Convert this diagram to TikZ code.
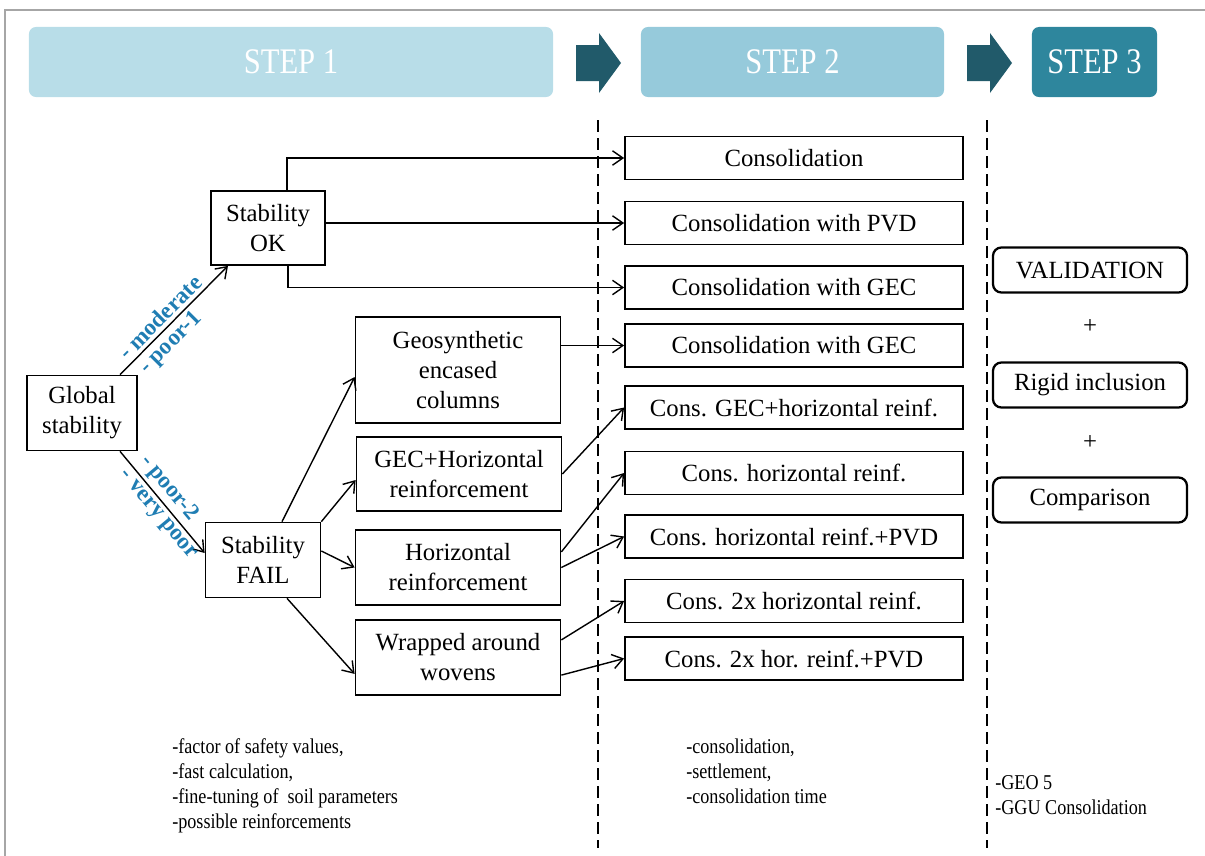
\documentclass[tikz,border=0pt]{standalone}
\usepackage{fontspec}
\setmainfont{Liberation Serif}
\usetikzlibrary{arrows.meta, positioning}
\definecolor{stepA}{HTML}{B8DDE8}
\definecolor{stepB}{HTML}{96CADB}
\definecolor{stepC}{HTML}{2E869D}
\definecolor{steparrow}{HTML}{215A6A}
\definecolor{grade}{HTML}{1F7DB3}
\tikzset{
  header/.style={
    rectangle,
    rounded corners=5pt,
    minimum height=1.75cm,
    text=white,
    font=\fontsize{25.6}{26}\selectfont,
    inner sep=0pt
  },
  reg/.style={
    rectangle,
    draw=black,
    line width=1.2pt,
    align=center,
    font=\fontsize{17.6}{21.3}\selectfont,
    inner sep=0pt
  },
  alt/.style={reg, minimum width=5.125cm},
  cons/.style={reg, minimum width=8.45cm, minimum height=1.075cm},
  final/.style={
    reg,
    rounded corners=6pt,
    line width=1.6pt,
    minimum width=4.85cm,
    minimum height=1.125cm
  },
  arrow/.style={line width=1pt, -{Straight Barb[length=2.6mm, width=3.6mm, line width=1pt]}},
  gradelabel/.style={font=\bfseries\fontsize{16.5}{16.5}\selectfont, text=grade, sloped, inner sep=2.5pt},
  notes/.style={anchor=north west, inner sep=0pt, font=\fontsize{15}{17.8}\selectfont},
  sep/.style={line width=0.8pt, dash pattern=on 0.3cm off 0.15cm}
}
\newcommand{\notelist}[1]{\scalebox{0.86}[1]{\begin{tabular}{@{}l@{}}#1\end{tabular}}}
\begin{document}
\begin{tikzpicture}[x=0.025cm, y=-0.025cm]
    \useasboundingbox (0,0) rectangle (1205,856);
    \draw[gray!70, line width=0.8pt] (1205,10) -- (5,10) -- (5,856);

    \node (h1) [header, fill=stepA, minimum width=13.1cm] at (291,62) {\scalebox{0.85}[1]{STEP 1}};
    \node (h2) [header, fill=stepB, minimum width=7.575cm] at (792.5,62) {\scalebox{0.85}[1]{STEP 2}};
    \node (h3) [header, fill=stepC, minimum width=3.125cm] at (1094.5,62) {\scalebox{0.85}[1]{STEP 3}};
    \foreach \x in {576,967}
      \fill[steparrow] (\x,45) -- (\x+23,45) -- (\x+23,33) -- (\x+45,63) -- (\x+23,93) -- (\x+23,81) -- (\x,81) -- cycle;

    \draw[sep] (598,120) -- (598,848);
    \draw[sep] (987,120) -- (987,848);

    \node (global) [reg, minimum width=2.75cm, minimum height=1.875cm] at (82,413) {Global\\stability};
    \node (ok) [reg, minimum width=2.85cm, minimum height=1.85cm] at (268,228) {Stability\\OK};
    \node (fail) [reg, minimum width=2.875cm, minimum height=1.875cm] at (263,560) {Stability\\FAIL};

    \node (geo) [alt, minimum height=2.65cm] at (458,370) {Geosynthetic\\encased\\columns};
    \node (gech) [alt, minimum height=1.85cm] at (459,474) {GEC+Horizontal\\reinforcement};
    \node (hor) [alt, minimum height=1.875cm] at (458,567.5) {Horizontal\\reinforcement};
    \node (wrap) [alt, minimum height=1.875cm] at (458,657.5) {Wrapped around\\wovens};

    \node (c1) [cons] at (794,158) {Consolidation};
    \node (c2) [cons] at (794,223) {Consolidation with PVD};
    \node (c3) [cons] at (794,287.5) {Consolidation with GEC};
    \node (c4) [cons] at (794,345.5) {Consolidation with GEC};
    \node (c5) [cons] at (794,407.5) {Cons. GEC+horizontal reinf.};
    \node (c6) [cons] at (794,473) {Cons. horizontal reinf.};
    \node (c7) [cons] at (794,536.5) {Cons. horizontal reinf.+PVD};
    \node (c8) [cons] at (794,601) {Cons. 2x horizontal reinf.};
    \node (c9) [cons] at (794,658.5) {Cons. 2x hor. reinf.+PVD};

    \node (valid) [final] at (1090,270) {VALIDATION};
    \node (plusA) [reg, draw=none] at (1090,327) {+};
    \node (rigid) [final] at (1090,385) {Rigid inclusion};
    \node (plusB) [reg, draw=none] at (1090,443) {+};
    \node (comp) [final] at (1090,500) {Comparison};

    \draw[arrow] ([xshift=0.95cm]global.north) -- ([xshift=-1cm]ok.south)
      node[gradelabel, above, pos=.45] {- moderate}
      node[gradelabel, below, pos=.38] {- poor-1};
    \draw[arrow] ([xshift=0.95cm]global.south) -- ([yshift=0.175cm]fail.west)
      node[gradelabel, above, pos=.45] {- poor-2}
      node[gradelabel, below, pos=.55] {- very poor};

    \draw[arrow] ([xshift=0.475cm]ok.north) |- (c1.west);
    \draw[arrow] (ok.east |- c2.west) -- (c2.west);
    \draw[arrow] ([xshift=0.5cm]ok.south) |- (c3.west);

    \draw[arrow] ([xshift=0.475cm]fail.north) -- ([yshift=-0.175cm]geo.west);
    \draw[arrow] (fail.north east) -- ([yshift=-0.15cm]gech.west);
    \draw[arrow] ([yshift=0.225cm]fail.east) -- (hor.west);
    \draw[arrow] ([xshift=0.6cm]fail.south) -- ([yshift=-0.41cm]wrap.west);

    \draw[arrow] (geo.east |- c4.west) -- (c4.west);
    \draw[arrow] (gech.east) -- (c5.west);
    \draw[arrow] ([yshift=0.39cm]hor.east) -- (c6.west);
    \draw[arrow] (hor.east) -- (c7.west);
    \draw[arrow] ([yshift=0.44cm]wrap.east) -- (c8.west);
    \draw[arrow] ([yshift=-0.44cm]wrap.east) -- (c9.west);

    \node (tools1) [notes] at (172,736) {\notelist{-factor of safety values,\\-fast calculation,\\-fine-tuning of \ soil parameters\\-possible reinforcements}};
    \node (tools2) [notes] at (686,736) {\notelist{-consolidation,\\-settlement,\\-consolidation time}};
    \node (tools3) [notes] at (995,772) {\notelist{-GEO 5\\-GGU Consolidation}};
\end{tikzpicture}
\end{document}
